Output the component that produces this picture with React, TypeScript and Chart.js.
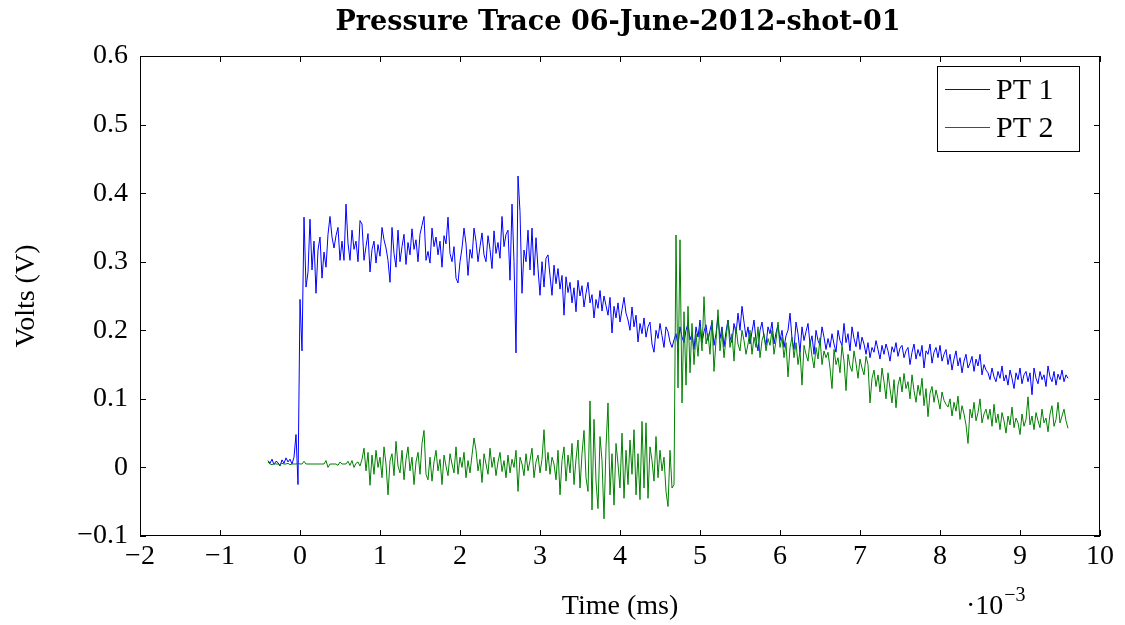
import React, { useEffect, useRef } from "react";
import { Chart, registerables } from "chart.js";

Chart.register(...registerables);

// Time axis in units of 1e-3 (shown as "·10^-3"), sampled every T_STEP starting at T_START
const T_START = -0.4;
const T_STEP = 0.025;

// PT 1 (blue) readings in millivolts
const pt1mV = [
  10, 6, 12, 4, 9, 7, 2, 11, 6, 14, 8, 12, 5, 15, 48, -25, 245, 170, 365, 263,
  285, 362, 288, 330, 254, 317, 336, 276, 314, 292, 340, 366, 336, 320, 338, 350, 302, 330, 302, 384,
  327, 302, 346, 318, 330, 300, 360, 355, 302, 322, 341, 285, 318, 330, 298, 325, 308, 350, 332, 320,
  302, 270, 350, 312, 292, 346, 300, 322, 340, 296, 328, 310, 348, 318, 332, 300, 340, 353, 366, 302,
  315, 298, 349, 322, 336, 310, 330, 292, 338, 326, 365, 312, 300, 322, 276, 269, 300, 320, 349, 326,
  280, 318, 305, 349, 330, 300, 322, 342, 310, 300, 338, 318, 290, 345, 312, 328, 305, 366, 322, 340,
  346, 273, 384, 300, 167, 425, 373, 254, 317, 300, 346, 288, 349, 280, 335, 290, 251, 300, 263, 305,
  310, 280, 251, 295, 268, 290, 260, 280, 222, 278, 255, 270, 240, 262, 227, 273, 250, 265, 234, 254,
  270, 240, 252, 218, 245, 232, 258, 228, 250, 236, 222, 248, 196, 235, 218, 240, 212, 230, 248, 225,
  215, 200, 234, 205, 222, 183, 210, 195, 218, 190, 205, 212, 180, 168, 200, 188, 210, 192, 175, 205,
  198, 183, 175, 186, 195, 178, 205, 190, 182, 200, 210, 186, 195, 172, 205, 190, 215, 182, 198, 208,
  185, 200, 212, 178, 195, 220, 188, 205, 176, 198, 215, 190, 182, 210, 195, 225, 200, 235, 212, 190,
  205, 180, 198, 215, 185, 170, 200, 212, 190, 178, 205, 195, 212, 180, 196, 208, 185, 200, 175, 192,
  200, 225, 188, 172, 212, 195, 168, 205, 185, 198, 210, 180, 192, 165, 200, 185, 178, 205, 190, 172,
  188, 175, 195, 180, 168, 200, 185, 178, 210, 182, 195, 170, 205, 188, 176, 198, 172, 190, 180, 165,
  182, 160, 175, 168, 185, 172, 158, 178, 165, 180, 170, 155, 176, 168, 182, 162, 174, 178, 160, 170,
  175, 150, 168, 180, 158, 172, 162, 178, 145, 170, 165, 180, 152, 168, 175, 160, 178, 155, 165, 172,
  150, 165, 142, 158, 170, 148, 160, 138, 155, 165, 145, 152, 162, 140, 158, 148, 165, 135, 150, 142,
  138, 128, 145, 132, 125, 140, 130, 148, 126, 135, 120, 142, 130, 115, 138, 128, 145, 122, 135, 140,
  125, 138, 106, 145, 130, 122, 140, 128, 135, 118, 148, 132, 125, 140, 120, 136, 128, 142, 125, 135,
  130,
];

// PT 2 (green) readings in millivolts
const pt2mV = [
  8, 5, 4, 6, 5, 5, 4, 6, 5, 5, 6, 4, 5, 5, 5, 6, 5, 5, 9, 5,
  5, 5, 5, 5, 5, 5, 5, 5, 5, 10, 0, 5, 5, 5, 5, 3, 8, 5, 5, 5,
  9, 3, 10, 0, 6, 8, 2, 12, 28, -5, 22, -26, 18, -10, 25, 0, 15, -15, 30, 5,
  -40, 10, 20, -12, 38, 2, -8, 25, -18, 12, 30, -5, 15, -25, 8, 22, -10, 35, 54, -10,
  -18, 15, -20, 8, 25, -5, 12, -25, 18, 2, -12, 20, 5, -8, 30, -10, 15, 0, 22, -15,
  10, -8, 18, 43, 25, -5, 12, -22, 20, 5, -10, 28, 0, 15, -12, 8, 22, -6, 10, -15,
  18, -8, 12, 0, 25, -35, 15, 5, -12, 20, -5, 10, 28, -15, 8, 18, -8, 12, 55, -5,
  22, -10, 15, 5, -18, 25, -40, 10, 30, -20, 18, -8, 35, -25, 12, 40, -30, 20, 54, -15,
  -35, 97, -62, 70, -20, -60, 45, 10, -75, 30, 94, -40, 20, -55, 35, 5, -30, 50, -45, 25,
  -25, 40, -10, 55, -40, 20, -47, 67, -30, 65, -45, 30, 10, -20, 45, -15, 25, -5, 15, -35,
  -57, 25, -30, -25, 339, 116, 332, 94, 227, 120, 235, 138, 210, 150, 195, 162, 205, 170, 249, 180,
  195, 165, 215, 140, 185, 230, 170, 200, 160, 188, 215, 175, 195, 155, 205, 180, 170, 200, 185, 165,
  180, 200, 165, 190, 175, 205, 160, 185, 195, 170, 188, 178, 200, 165, 185, 212, 175, 190, 160, 182,
  132, 175, 190, 160, 182, 150, 170, 120, 178, 165, 155, 185, 162, 145, 175, 158, 189, 150, 170, 160,
  168, 145, 115, 172, 150, 160, 138, 178, 155, 112, 165, 148, 140, 170, 152, 130, 158, 145, 135, 162,
  150, 94, 130, 142, 118, 135, 110, 145, 125, 100, 138, 115, 94, 128, 87, 120, 132, 110, 137, 115,
  125, 100, 135, 112, 95, 120, 105, 130, 90, 115, 74, 108, 118, 95, 113, 100, 85, 110, 98, 92,
  88, 100, 75, 95, 82, 104, 70, 90, 78, 62, 35, 85, 72, 95, 68, 80, 100, 65, 78, 85,
  70, 85, 60, 92, 65, 78, 55, 80, 68, 50, 75, 62, 88, 58, 72, 65, 48, 78, 60, 70,
  103, 62, 75, 55, 80, 68, 58, 85, 65, 72, 52, 78, 90, 60, 70, 95, 65, 75, 85, 68,
  57,
];

const xTicks = [-2, -1, 0, 1, 2, 3, 4, 5, 6, 7, 8, 9, 10];
const yTicks = [-0.1, 0, 0.1, 0.2, 0.3, 0.4, 0.5, 0.6];
const seriesNames = ["PT 1", "PT 2"];
const seriesColors = ["#0000ff", "#008000"];
const chartTitle = "Pressure Trace 06-June-2012-shot-01";
const xAxisLabel = "Time (ms)";
const yAxisLabel = "Volts (V)";

const FONT = "'Liberation Serif', 'Times New Roman', serif";
const TITLE_FONT = "'DejaVu Serif', 'Liberation Serif', serif";

const fmtX = (v: number) => String(Math.round(v)).replace("-", "\u2212");
const fmtY = (v: number) => {
  const r = Math.round(v * 10) / 10;
  return (r === 0 ? "0" : r.toFixed(1)).replace("-", "\u2212");
};

const framePlugin = {
  id: "frame",
  afterDraw(chart: any) {
    const { ctx, chartArea } = chart;
    const { left, right, top, bottom } = chartArea;
    const xs = chart.scales.x;
    const ys = chart.scales.y;
    ctx.save();
    ctx.strokeStyle = "#000";
    ctx.lineWidth = 1;
    // frame
    ctx.strokeRect(Math.round(left) + 0.5, Math.round(top) + 0.5, Math.round(right - left) - 1, Math.round(bottom - top) - 1);
    // inward ticks
    const tl = 6;
    ctx.beginPath();
    xTicks.forEach((v) => {
      const px = Math.round(xs.getPixelForValue(v)) + 0.5;
      ctx.moveTo(px, bottom);
      ctx.lineTo(px, bottom - tl);
      ctx.moveTo(px, top);
      ctx.lineTo(px, top + tl);
    });
    yTicks.forEach((v) => {
      const py = Math.round(ys.getPixelForValue(v)) + 0.5;
      ctx.moveTo(left, py);
      ctx.lineTo(left + tl, py);
      ctx.moveTo(right, py);
      ctx.lineTo(right - tl, py);
    });
    ctx.stroke();

    ctx.fillStyle = "#000";
    // title
    ctx.font = `bold 27px ${TITLE_FONT}`;
    ctx.textAlign = "center";
    ctx.textBaseline = "alphabetic";
    ctx.fillText(chartTitle, 618, 30);
    // x label
    ctx.font = `28px ${FONT}`;
    ctx.fillText(xAxisLabel, (left + right) / 2, 614);
    // exponent
    ctx.textAlign = "left";
    ctx.fillText("\u00b710", 966, 614);
    const w = ctx.measureText("\u00b710").width;
    ctx.font = `20px ${FONT}`;
    ctx.fillText("\u22123", 966 + w + 1, 601);
    // y label
    ctx.save();
    ctx.translate(27, (top + bottom) / 2);
    ctx.rotate(-Math.PI / 2);
    ctx.font = `28px ${FONT}`;
    ctx.textAlign = "center";
    ctx.textBaseline = "middle";
    ctx.fillText(yAxisLabel, 0, 0);
    ctx.restore();

    // legend
    ctx.fillStyle = "#fff";
    ctx.fillRect(937, 66, 142, 85);
    ctx.strokeStyle = "#000";
    ctx.strokeRect(937.5, 66.5, 142, 85);
    const rows = [89, 127];
    seriesNames.forEach((name, i) => {
      ctx.strokeStyle = seriesColors[i];
      ctx.lineWidth = 1;
      ctx.beginPath();
      ctx.moveTo(945, rows[i] + 0.5);
      ctx.lineTo(990, rows[i] + 0.5);
      ctx.stroke();
      ctx.fillStyle = "#000";
      ctx.font = `30px ${FONT}`;
      ctx.textAlign = "left";
      ctx.textBaseline = "alphabetic";
      ctx.fillText(name, 996, rows[i] + 10);
    });
    ctx.restore();
  },
};

export default function App() {
  const ref = useRef<HTMLCanvasElement | null>(null);
  useEffect(() => {
    if (!ref.current) return;
    const d1 = pt1mV.map((v, i) => ({ x: T_START + i * T_STEP, y: v / 1000 }));
    const d2 = pt2mV.map((v, i) => ({ x: T_START + i * T_STEP, y: v / 1000 }));
    const tickFont = { family: FONT, size: 28 };
    const chart = new Chart(ref.current, {
      type: "line",
      data: {
        datasets: [
          { label: seriesNames[0], data: d1, borderColor: seriesColors[0], borderWidth: 1, pointRadius: 0, tension: 0, fill: false, order: 1 },
          { label: seriesNames[1], data: d2, borderColor: seriesColors[1], borderWidth: 1, pointRadius: 0, tension: 0, fill: false, order: 0 },
        ],
      },
      options: {
        animation: false,
        responsive: false,
        devicePixelRatio: 1,
        events: [],
        layout: { padding: { top: 56, right: 25, left: 0, bottom: 0 } },
        plugins: { legend: { display: false }, title: { display: false }, tooltip: { enabled: false } },
        scales: {
          x: {
            type: "linear",
            min: -2,
            max: 10,
            afterBuildTicks: (s: any) => {
              s.ticks = xTicks.map((v) => ({ value: v }));
            },
            afterFit: (s: any) => {
              s.height = 89;
            },
            grid: { display: false, drawTicks: false },
            border: { display: false },
            ticks: { font: tickFont, color: "#000", padding: 4, maxRotation: 0, autoSkip: false, callback: (v: any) => fmtX(Number(v)) },
          },
          y: {
            type: "linear",
            min: -0.1,
            max: 0.6,
            afterBuildTicks: (s: any) => {
              s.ticks = yTicks.map((v) => ({ value: v }));
            },
            afterFit: (s: any) => {
              s.width = 140;
            },
            grid: { display: false, drawTicks: false },
            border: { display: false },
            ticks: { font: tickFont, color: "#000", padding: 12, autoSkip: false, callback: (v: any) => fmtY(Number(v)) },
          },
        },
      },
      plugins: [framePlugin],
    } as any);
    return () => chart.destroy();
  }, []);
  return (
    <div style={{ position: "absolute", left: 0, top: 0, width: 1125, height: 625, background: "#fff" }}>
      <canvas ref={ref} width={1125} height={625} style={{ display: "block" }} />
    </div>
  );
}
